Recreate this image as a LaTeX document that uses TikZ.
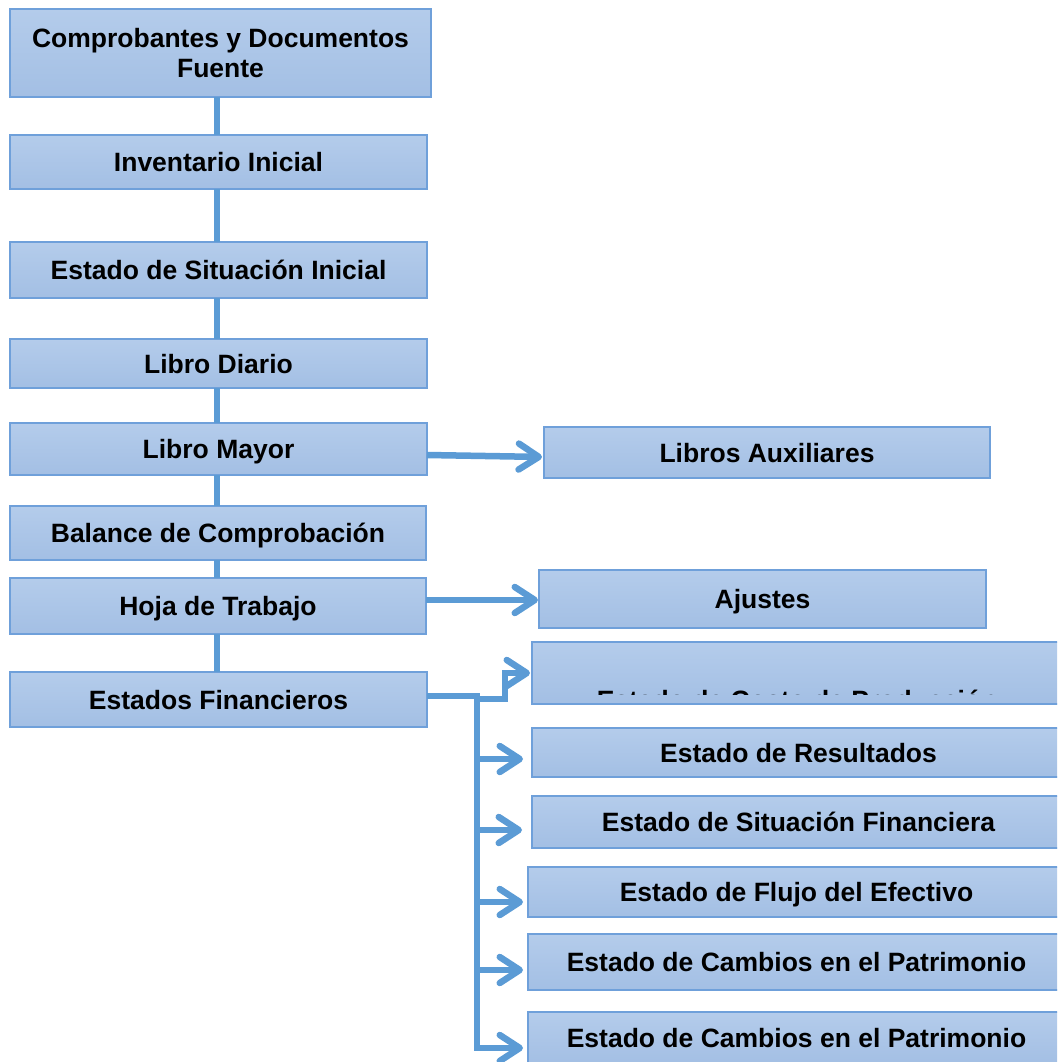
\documentclass[tikz,border=0pt]{standalone}
\usepackage{fontspec}
\setmainfont{Liberation Sans}
\usetikzlibrary{arrows.meta,calc}
\definecolor{boxtop}{HTML}{B4CCEB}
\definecolor{boxbot}{HTML}{A3BFE4}
\definecolor{boxline}{HTML}{6FA0DA}
\definecolor{connc}{HTML}{5B9BD5}
\begin{document}
\begin{tikzpicture}[x=1pt,y=-1pt,
  boxbase/.style={draw=boxline, line width=1.5pt, top color=boxtop, bottom color=boxbot,
    inner sep=0pt, outer sep=0pt, align=center, text=black,
    font=\fontsize{26.5}{30}\selectfont\bfseries},
  box/.style={boxbase, text height=20pt, text depth=1pt},
  link/.style={draw=connc, line width=6.5pt},
  arr/.style={link, line join=miter, -{Straight Barb[length=20pt,width=26pt,round]}}]
\useasboundingbox (0,0) rectangle (1057,1062);
\clip (0,0) rectangle (1057,1062);
% left column
\node[boxbase, minimum width=421pt, minimum height=88pt] (c1) at (220.5,53) {Comprobantes y Documentos\\Fuente};
\node[box, minimum width=417pt, minimum height=54pt] (c2) at (218.5,162) {Inventario Inicial};
\node[box, minimum width=417pt, minimum height=56pt] (c3) at (218.5,270) {Estado de Situación Inicial};
\node[box, minimum width=417pt, minimum height=49pt] (c4) at (218.5,363.5) {Libro Diario};
\node[box, minimum width=417pt, minimum height=52pt] (c5) at (218.5,449) {Libro Mayor};
\node[box, minimum width=416pt, minimum height=54pt] (c6) at (218,533) {Balance de Comprobación};
\node[box, minimum width=416pt, minimum height=56pt] (c7) at (218,606) {Hoja de Trabajo};
\node[box, minimum width=417pt, minimum height=55pt] (c8) at (218.5,699.5) {Estados Financieros};
% right column
\node[box, minimum width=446pt, minimum height=51pt] (la) at (767,452.5) {Libros Auxiliares};
\node[box, minimum width=447pt, minimum height=58pt] (aj) at (762.5,599) {Ajustes};
\node[box, minimum width=533pt, minimum height=62pt] (cp) at (798.5,673) {};
\begin{scope}
\clip ([yshift=10pt]cp.south west) rectangle (cp.north east);
\node[font=\fontsize{26.5}{30}\selectfont\bfseries, anchor=base, inner sep=0pt] (cptxt) at (797,709) {Estado de Costo de Producción};
\end{scope}
\node[box, minimum width=533pt, minimum height=49pt] (er) at (798.5,752.5) {Estado de Resultados};
\node[box, minimum width=533pt, minimum height=52pt] (sf) at (798.5,822) {Estado de Situación Financiera};
\node[box, minimum width=537pt, minimum height=50pt] (fe) at (796.5,892) {Estado de Flujo del Efectivo};
\node[box, minimum width=537pt, minimum height=56pt] (cb1) at (796.5,962) {Estado de Cambios en el Patrimonio};
\node[box, minimum width=537pt, minimum height=52pt] (cb2) at (796.5,1038) {Estado de Cambios en el Patrimonio};
% vertical connectors
\coordinate (lx) at (217,0);
\foreach \a/\b in {c1/c2,c2/c3,c3/c4,c4/c5,c5/c6,c6/c7,c7/c8}
  \draw[link] (\a.south -| lx) -- (\b.north -| lx);
% side arrows
\coordinate (m0) at ([yshift=-6pt]c5.east);
\coordinate (m1) at ([yshift=-4.5pt]la.west);
\draw[arr, shorten >=2pt] (m0) -- (m1);
\coordinate (h0) at ([yshift=6pt]c7.east);
\draw[arr, shorten >=1pt] (h0) -- (h0 -| aj.west);
% financial statements branch
\coordinate (e0) at ([yshift=3.5pt]c8.east);
\coordinate (tk) at (477,696);
\coordinate (b0) at (477,699);
\coordinate (yer) at (0,759);
\coordinate (ysf) at (0,830);
\coordinate (yfe) at (0,902);
\coordinate (ycb1) at (0,970);
\coordinate (ycb2) at (0,1048);
\draw[arr, shorten >=5pt] (e0) -- (tk) -- (tk |- ycb2) -- (ycb2 -| cb2.west);
\draw[arr, shorten >=2pt] (b0) -- ++(28,0) |- (cp.west);
\draw[arr, shorten >=9pt] (tk |- yer) -- (yer -| er.west);
\draw[arr, shorten >=10pt] (tk |- ysf) -- (ysf -| sf.west);
\draw[arr, shorten >=5pt] (tk |- yfe) -- (yfe -| fe.west);
\draw[arr, shorten >=5pt] (tk |- ycb1) -- (ycb1 -| cb1.west);
\end{tikzpicture}
\end{document}
